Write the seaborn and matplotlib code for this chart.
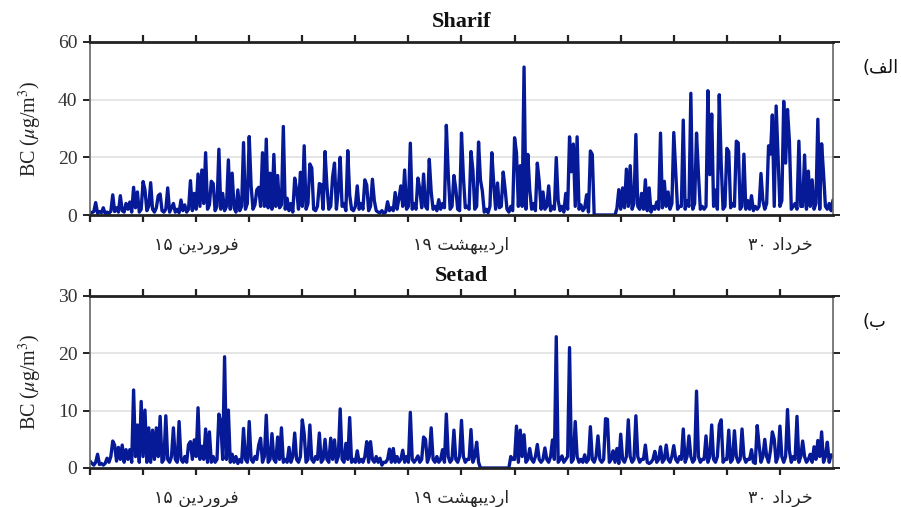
import numpy as np
import pandas as pd
import matplotlib
matplotlib.use("Agg")
import matplotlib.pyplot as plt
import seaborn as sns

# ---------------- data (6-hour samples, 4 per day, starting 1 Farvardin) ----------------
step_days = 0.25

sharif_bc = [
    1.0, 0.8, 1.2, 4.3,   # d0
    0.6, 1.2, 0.8, 2.5,   # d1
    0.5, 1.0, 0.6, 1.3,   # d2
    7.0, 1.2, 2.5, 1.0,   # d3
    6.7, 1.5, 1.0, 4.0,   # d4
    2.0, 4.5, 1.0, 9.6,   # d5
    2.5, 8.0, 1.0, 2.0,   # d6
    11.6, 8.7, 1.5, 3.0,  # d7
    11.2, 2.0, 1.0, 2.5,  # d8
    6.7, 7.3, 1.5, 1.0,   # d9
    2.0, 9.4, 1.0, 2.5,   # d10
    4.0, 1.0, 2.0, 0.8,   # d11
    5.2, 1.5, 3.5, 1.0,   # d12
    2.0, 11.9, 1.5, 7.5,  # d13
    2.0, 14.2, 3.0, 15.6, # d14
    4.0, 21.6, 2.0, 3.5,  # d15
    11.7, 10.9, 1.5, 3.0, # d16
    22.8, 2.0, 7.5, 1.5,  # d17
    3.0, 19.1, 2.0, 14.5, # d18
    2.5, 1.0, 8.7, 1.5,   # d19
    3.0, 25.1, 2.0, 4.0,  # d20
    27.2, 10.0, 2.0, 3.5, # d21
    8.7, 9.6, 3.0, 21.6,  # d22
    3.0, 26.3, 2.5, 14.5, # d23
    2.0, 21.0, 3.0, 13.7, # d24
    2.5, 3.5, 30.7, 2.0,  # d25
    5.8, 1.5, 4.0, 1.0,   # d26
    12.8, 8.7, 2.0, 14.8, # d27
    3.0, 24.0, 2.0, 4.0,  # d28
    17.7, 16.3, 2.0, 1.5, # d29
    3.0, 10.9, 10.5, 2.0, # d30
    22.0, 10.0, 2.0, 3.0, # d31
    13.3, 18.0, 2.0, 8.7, # d32
    20.0, 3.0, 4.0, 1.5,  # d33
    22.3, 7.0, 2.0, 1.5,  # d34
    3.0, 10.1, 2.0, 4.0,  # d35
    2.0, 12.2, 10.4, 1.5, # d36
    3.0, 12.4, 5.0, 1.5,  # d37
    1.0, 0.8, 1.5, 0.6,   # d38
    1.0, 4.6, 1.5, 2.5,   # d39
    1.5, 7.8, 2.0, 5.8,   # d40
    10.1, 3.0, 15.6, 2.0, # d41
    3.0, 24.9, 2.0, 4.0,  # d42
    2.0, 12.8, 9.0, 2.5,  # d43
    14.2, 3.0, 2.0, 19.3, # d44
    8.1, 2.0, 3.0, 1.5,   # d45
    5.3, 2.0, 4.0, 2.5,   # d46
    31.1, 14.4, 2.0, 3.0, # d47
    13.7, 9.0, 2.0, 1.5,  # d48
    28.4, 13.3, 2.5, 3.0, # d49
    2.0, 22.0, 15.6, 2.0, # d50
    3.0, 25.3, 12.2, 8.3, # d51
    1.0, 2.0, 0.8, 3.0,   # d52
    21.6, 10.9, 2.0, 11.1,# d53
    2.5, 3.0, 14.9, 9.0,  # d54
    2.0, 1.0, 3.0, 1.5,   # d55
    26.8, 21.6, 3.0, 17.1,# d56
    3.0, 51.3, 2.0, 21.0, # d57
    8.7, 2.0, 4.0, 1.5,   # d58
    18.0, 11.7, 2.0, 8.0, # d59
    2.0, 3.0, 10.1, 1.5,  # d60
    3.0, 2.0, 19.9, 5.0,  # d61
    1.5, 3.0, 1.0, 7.5,   # d62
    2.0, 27.1, 15.0, 24.6,# d63
    3.0, 27.1, 2.0, 3.5,  # d64
    1.5, 2.5, 7.0, 1.0,   # d65
    22.2, 21.0, 0.0, 0.0, # d66
    0.0, 0.0, 0.0, 0.0,   # d67
    0.0, 0.0, 0.0, 0.0,   # d68
    0.0, 0.0, 2.3, 8.8,   # d69
    2.0, 9.4, 2.5, 15.9,  # d70
    3.0, 17.1, 2.0, 4.0,  # d71
    27.9, 3.0, 2.0, 7.5,  # d72
    2.0, 12.2, 1.5, 9.4,  # d73
    1.0, 3.0, 2.0, 4.5,   # d74
    2.0, 28.4, 2.5, 11.7, # d75
    3.0, 8.0, 2.0, 4.0,   # d76
    28.6, 15.2, 2.0, 3.0, # d77
    3.0, 32.9, 2.0, 5.0,  # d78
    3.0, 42.2, 2.0, 4.0,  # d79
    28.4, 14.4, 2.0, 3.0, # d80
    2.0, 3.0, 43.1, 14.0, # d81
    35.0, 3.0, 8.7, 2.0,  # d82
    41.7, 18.0, 2.0, 3.0, # d83
    23.1, 22.0, 2.5, 4.0, # d84
    3.0, 25.6, 25.0, 2.0, # d85
    3.0, 21.1, 2.0, 5.0,  # d86
    2.0, 6.7, 1.5, 3.0,   # d87
    2.0, 3.0, 14.4, 5.0,  # d88
    2.0, 4.0, 24.0, 21.1, # d89
    34.7, 3.0, 37.8, 20.0,# d90
    3.0, 5.0, 39.4, 18.0, # d91
    36.6, 25.6, 2.0, 3.0, # d92
    4.0, 2.0, 25.6, 3.0,  # d93
    3.0, 20.8, 2.0, 15.2, # d94
    3.0, 12.2, 2.0, 4.0,  # d95
    33.2, 2.0, 24.7, 14.5,# d96
    3.0, 2.0, 4.0, 1.5,   # d97
    5.2,                  # d98
]

setad_bc = [
    1.2, 0.8, 0.5, 1.0,   # d0
    2.4, 0.6, 0.8, 0.5,   # d1
    0.8, 1.7, 1.0, 2.0,   # d2
    4.7, 4.0, 1.2, 3.6,   # d3
    1.5, 4.0, 1.0, 3.2,   # d4
    1.5, 3.2, 1.0, 13.6,  # d5
    2.0, 7.5, 1.0, 11.6,  # d6
    2.0, 10.1, 1.0, 7.0,  # d7
    1.0, 6.6, 1.5, 7.0,   # d8
    2.0, 9.0, 1.0, 1.5,   # d9
    9.1, 1.5, 1.0, 2.0,   # d10
    7.0, 1.5, 1.0, 8.1,   # d11
    1.5, 1.0, 2.0, 1.0,   # d12
    4.1, 4.6, 1.5, 4.9,   # d13
    2.0, 10.5, 1.5, 3.8,  # d14
    1.5, 6.8, 1.0, 6.3,   # d15
    1.0, 2.0, 1.0, 1.5,   # d16
    9.4, 8.0, 1.5, 19.4,  # d17
    1.5, 10.1, 1.0, 2.4,  # d18
    1.0, 2.0, 0.8, 1.5,   # d19
    1.0, 6.9, 1.5, 1.0,   # d20
    8.1, 1.5, 1.0, 2.0,   # d21
    1.5, 4.0, 5.2, 1.0,   # d22
    2.0, 9.2, 1.0, 1.5,   # d23
    6.0, 1.5, 1.0, 5.4,   # d24
    1.5, 7.0, 1.0, 1.5,   # d25
    1.0, 3.6, 1.0, 2.0,   # d26
    6.1, 1.5, 1.0, 2.0,   # d27
    8.4, 6.0, 1.0, 1.5,   # d28
    7.5, 1.5, 1.0, 2.0,   # d29
    1.5, 6.1, 1.0, 1.5,   # d30
    5.0, 1.5, 1.0, 5.2,   # d31
    1.5, 4.9, 1.0, 2.0,   # d32
    10.3, 1.5, 1.0, 4.3,  # d33
    1.5, 8.8, 1.0, 1.5,   # d34
    1.0, 3.0, 1.0, 1.5,   # d35
    1.0, 2.0, 4.6, 1.0,   # d36
    4.6, 1.5, 1.0, 2.0,   # d37
    1.0, 1.7, 0.5, 1.0,   # d38
    1.0, 1.5, 3.3, 1.0,   # d39
    3.4, 1.0, 2.0, 1.0,   # d40
    1.5, 3.1, 1.0, 2.0,   # d41
    1.0, 9.7, 1.5, 1.0,   # d42
    1.5, 2.1, 1.0, 1.5,   # d43
    5.4, 5.0, 1.0, 2.0,   # d44
    7.0, 1.5, 1.0, 2.0,   # d45
    1.0, 1.5, 3.2, 1.0,   # d46
    9.4, 2.0, 1.0, 1.5,   # d47
    6.6, 1.5, 1.0, 2.0,   # d48
    8.3, 2.0, 1.0, 1.5,   # d49
    1.5, 6.7, 1.0, 2.0,   # d50
    4.5, 1.0, 0.0, 0.0,   # d51
    0.0, 0.0, 0.0, 0.0,   # d52
    0.0, 0.0, 0.0, 0.0,   # d53
    0.0, 0.0, 0.0, 0.0,   # d54
    0.0, 0.0, 2.0, 1.5,   # d55
    1.5, 7.3, 1.0, 6.6,   # d56
    2.0, 5.8, 1.0, 1.5,   # d57
    3.4, 1.5, 1.0, 2.0,   # d58
    4.1, 1.5, 1.0, 1.5,   # d59
    3.5, 1.5, 1.0, 2.0,   # d60
    4.9, 1.5, 22.9, 1.0,  # d61
    1.5, 2.1, 1.0, 1.5,   # d62
    2.0, 21.0, 1.0, 1.5,  # d63
    8.1, 2.0, 1.0, 1.5,   # d64
    1.0, 2.3, 1.0, 1.5,   # d65
    7.2, 1.5, 1.0, 2.0,   # d66
    5.6, 1.5, 1.0, 1.5,   # d67
    8.6, 8.5, 1.0, 1.5,   # d68
    3.0, 1.0, 3.4, 0.8,   # d69
    5.9, 1.5, 1.0, 2.0,   # d70
    8.4, 2.0, 1.0, 1.5,   # d71
    9.1, 2.0, 1.0, 1.5,   # d72
    1.5, 4.0, 1.0, 0.8,   # d73
    1.0, 1.5, 2.9, 1.0,   # d74
    1.5, 3.7, 1.0, 1.5,   # d75
    4.0, 1.5, 1.0, 2.0,   # d76
    3.9, 1.5, 1.0, 2.0,   # d77
    1.5, 6.8, 1.0, 2.0,   # d78
    5.6, 2.0, 1.0, 1.5,   # d79
    13.4, 2.0, 1.0, 1.5,  # d80
    1.5, 5.6, 1.0, 2.0,   # d81
    7.5, 1.5, 1.0, 2.0,   # d82
    7.5, 8.4, 1.0, 1.5,   # d83
    1.5, 6.6, 1.0, 1.5,   # d84
    6.5, 2.0, 1.0, 1.5,   # d85
    6.8, 2.0, 1.0, 1.5,   # d86
    1.5, 3.2, 1.0, 0.8,   # d87
    7.4, 4.0, 1.0, 2.0,   # d88
    5.0, 2.0, 1.0, 3.0,   # d89
    6.3, 5.0, 1.0, 2.0,   # d90
    7.3, 2.0, 1.0, 2.0,   # d91
    10.2, 3.0, 1.0, 2.0,  # d92
    1.5, 9.0, 1.0, 2.0,   # d93
    4.7, 2.0, 1.0, 1.5,   # d94
    2.4, 1.0, 3.7, 1.5,   # d95
    4.8, 2.0, 6.3, 1.0,   # d96
    2.0, 4.5, 1.0, 2.3,   # d97
    2.0,                  # d98
]

panel_titles = ["Sharif", "Setad"]
# Persian texts written in display order with Arabic presentation forms (no shaping in matplotlib)
panel_tags = ["(\uFED2\uFEDF\uFE8D", "(\uFE8F"]          # الف)  ,  ب)
y_limits = [60, 30]
y_ticks = [[0, 20, 40, 60], [0, 10, 20, 30]]
x_tick_days = list(range(0, 92, 7))
x_tick_text = {
    14: "\u06F1\u06F5 \uFEE6\uFEF3\uFEA9\uFEAD\uFEED\uFEAE\uFED3",          # ۱۵ فروردین
    49: "\u06F1\u06F9 \uFE96\uFEB8\uFEEC\uFE92\uFEF3\uFEA9\uFEAD\uFE8D",    # ۱۹ اردیبهشت
    91: "\u06F3\u06F0 \uFEA9\uFE8D\uFEA9\uFEAE\uFEA7",                      # ۳۰ خرداد
}
x_max_days = 98

# ---------------- style ----------------
sns.set_theme(style="white")
plt.rcParams["font.family"] = ["Liberation Serif", "DejaVu Sans"]
plt.rcParams["mathtext.fontset"] = "stix"

line_color = "#061a98"
W, H = 901, 507
fig = plt.figure(figsize=(W / 100, H / 100), dpi=100)

axes_px = [(42, 215), (296, 468)]
left_px, right_px = 90, 833
tag_y_px = [68, 322]

for i, (vals, top_bot) in enumerate(zip([sharif_bc, setad_bc], axes_px)):
    top, bot = top_bot
    ax = fig.add_axes([left_px / W, 1 - bot / H, (right_px - left_px) / W, (bot - top) / H])
    df = pd.DataFrame({"day": np.arange(len(vals)) * step_days, "bc": vals})
    sns.lineplot(data=df, x="day", y="bc", ax=ax, color=line_color, linewidth=2.4,
                 estimator=None, sort=False)
    ax.set_xlim(0, x_max_days)
    ax.set_ylim(0, y_limits[i])
    ax.set_yticks(y_ticks[i])
    ax.set_yticklabels([str(v) for v in y_ticks[i]])
    ax.set_xticks(x_tick_days)
    ax.set_xticklabels([x_tick_text.get(d, "") for d in x_tick_days],
                       fontfamily=["DejaVu Sans"], fontsize=12.5)
    ax.set_xlabel("")
    ax.set_ylabel(r"BC ($\mu$g/m$^3$)", fontsize=14.5, labelpad=10, color="#222222")
    ax.set_title(panel_titles[i], fontsize=16, fontweight="bold", pad=11, color="#111111")

    for yv in y_ticks[i][1:-1]:
        ax.axhline(yv, color="#e2e2e2", linewidth=1.2, zorder=0)

    ax.tick_params(axis="x", which="both", direction="out", top=True, bottom=True,
                   length=5, width=1.6, color="#222222", pad=10)
    ax.tick_params(axis="y", which="both", direction="out", left=True, right=True,
                   length=5, width=1.4, color="#222222", labelsize=14, pad=4,
                   labelcolor="#333333")
    for lab in ax.get_yticklabels():
        lab.set_fontfamily(["Liberation Serif"])
    ax.spines["top"].set_color("#222222")
    ax.spines["top"].set_linewidth(2.0)
    ax.spines["bottom"].set_color("#222222")
    ax.spines["bottom"].set_linewidth(2.0)
    ax.spines["left"].set_color("#666666")
    ax.spines["left"].set_linewidth(1.2)
    ax.spines["right"].set_color("#666666")
    ax.spines["right"].set_linewidth(1.2)

    fig.text(862 / W, 1 - tag_y_px[i] / H, panel_tags[i], fontsize=13,
             family=["DejaVu Sans"], ha="left", va="center", color="#111111")

fig.savefig("out.png", dpi=100)
